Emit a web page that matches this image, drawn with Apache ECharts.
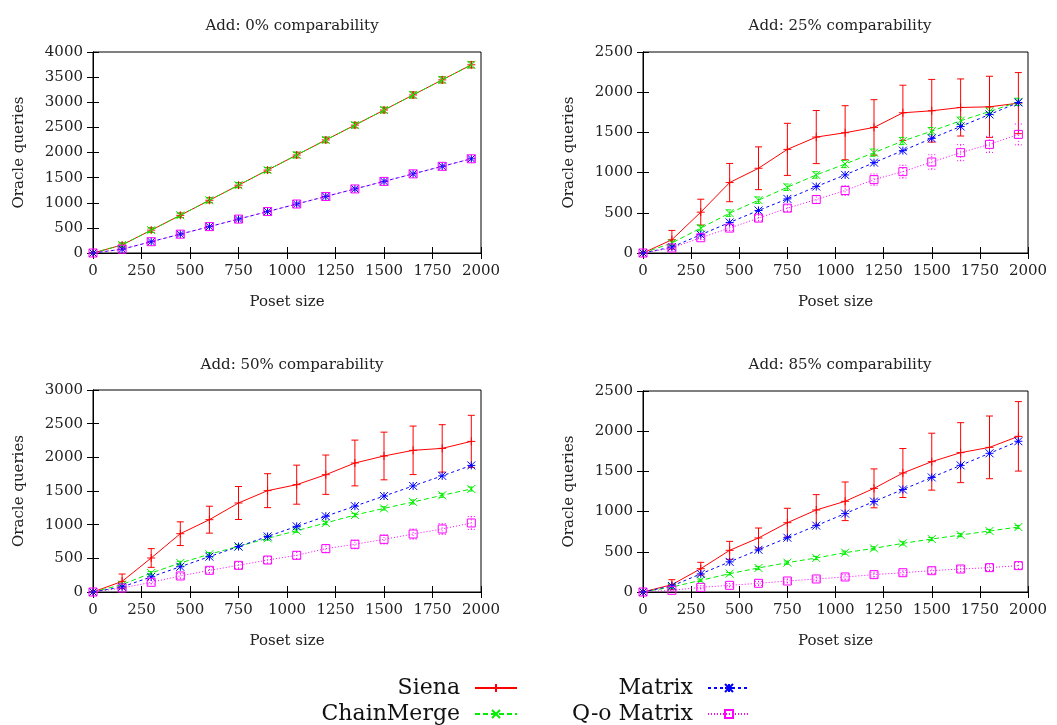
<!DOCTYPE html>
<html><head><meta charset="utf-8">
<script src="https://cdn.jsdelivr.net/npm/echarts@6/dist/echarts.min.js"></script>
<style>html,body{margin:0;padding:0;background:#fff}#c{width:1057px;height:725px}</style>
</head><body><div id="c"></div>
<script>
// ---- data ----
const posetSizes = [0,150,300,450,600,750,900,1050,1200,1350,1500,1650,1800,1950];
const panelTitles = ['Add: 0% comparability','Add: 25% comparability','Add: 50% comparability','Add: 85% comparability'];
const yMaxes = [4000, 2500, 3000, 2500];
const seriesNames = ['Siena','ChainMerge','Matrix','Q-o Matrix'];

const siena0  = [0,160,455,750,1050,1350,1650,1950,2250,2545,2845,3145,3445,3745];
const chain0  = [0,160,455,750,1050,1350,1650,1950,2250,2545,2845,3145,3445,3745];
const matrix0 = [0,75,225,375,525,675,825,975,1125,1275,1425,1575,1725,1875];
const qo0     = [0,75,225,375,525,675,825,975,1125,1275,1425,1575,1725,1875];
const sienaErr0 = [0,40,45,45,50,50,50,55,55,55,55,60,60,60];
const chainErr0 = [0,40,45,45,50,50,50,55,55,55,55,60,60,60];
const qoErr0    = [0,20,20,25,25,25,25,30,30,30,30,30,30,30];

const siena25  = [0,165,508,876,1054,1289,1442,1496,1562,1744,1769,1810,1818,1864];
const chain25  = [0,124,310,496,657,818,971,1107,1248,1393,1516,1645,1760,1880];
const matrix25 = [0,74,227,380,529,673,826,971,1124,1273,1426,1574,1723,1872];
const qo25     = [0,62,190,310,434,558,665,777,913,1012,1132,1248,1351,1475];
const sienaErr25 = [0,116,161,238,266,324,330,336,345,343,390,355,380,380];
const chainErr25 = [0,30,35,40,40,40,40,45,45,45,45,45,45,45];
const qoErr25    = [0,20,25,30,35,40,50,60,70,80,90,100,100,130];

const siena50  = [0,158,505,866,1074,1322,1505,1594,1742,1916,2020,2104,2133,2237];
const chain50  = [0,109,282,431,560,678,797,911,1025,1143,1242,1337,1436,1530];
const matrix50 = [0,75,225,375,525,675,825,975,1125,1275,1425,1575,1725,1880];
const qo50     = [0,59,144,238,322,396,475,545,644,708,782,861,936,1025];
const sienaErr50 = [0,109,139,176,200,245,252,290,292,340,354,360,352,387];
const chainErr50 = [0,20,20,25,25,25,25,25,25,25,25,30,30,30];
const qoErr50    = [0,20,25,35,40,45,50,55,60,65,70,75,80,95];

const siena85  = [0,91,290,518,672,862,1020,1128,1289,1480,1621,1733,1799,1936];
const chain85  = [0,62,145,228,299,365,423,489,543,605,659,709,759,808];
const matrix85 = [0,75,225,375,525,675,825,975,1125,1275,1425,1575,1725,1875];
const qo85     = [0,21,58,83,108,137,162,187,216,240,265,286,303,328];
const sienaErr85 = [0,62,79,112,124,179,191,240,242,305,354,373,390,432];
const chainErr85 = [0,15,15,15,20,20,20,20,20,20,20,20,20,20];
const qoErr85    = [0,15,20,20,25,25,25,30,30,30,35,35,35,40];

const panels = [
  {vals:[siena0,chain0,matrix0,qo0], errs:[sienaErr0,chainErr0,null,qoErr0]},
  {vals:[siena25,chain25,matrix25,qo25], errs:[sienaErr25,chainErr25,null,qoErr25]},
  {vals:[siena50,chain50,matrix50,qo50], errs:[sienaErr50,chainErr50,null,qoErr50]},
  {vals:[siena85,chain85,matrix85,qo85], errs:[sienaErr85,chainErr85,null,qoErr85]}
];

// ---- styles ----
const FONT = 'DejaVu Serif';
const colors = ['#ff0000','#00ee00','#0000ff','#ff00ff'];
const dashes = [null,[5,3],[3,3],[1,2]];
const symbols = [
  'path://M0,5L10,5M5,0L5,10',
  'path://M0,0L10,10M0,10L10,0',
  'path://M0,0L10,10M0,10L10,0M5,0L5,10M0,5L10,5',
  'path://M0,0L10,0L10,10L0,10Z'
];
const gridPos = [
  {left:93, top:52, width:388, height:201},
  {left:643, top:52, width:385, height:201},
  {left:93, top:390, width:388, height:202},
  {left:643, top:391, width:385, height:201}
];
const titleCenters = [[287,14],[835,14],[287,353],[835,353]];
const plain = v => String(v);

const grids=[], xAxes=[], yAxes=[], series=[], titles=[];
panels.forEach((p,gi)=>{
  grids.push(Object.assign({show:true, borderColor:'#000', borderWidth:1, backgroundColor:'transparent'}, gridPos[gi]));
  titles.push({text:panelTitles[gi], left:titleCenters[gi][0], top:titleCenters[gi][1], textAlign:'center',
    textStyle:{fontFamily:FONT, fontSize:15, fontWeight:'normal', color:'#222'}});
  const tickCommon = {show:true, inside:true, length:6, lineStyle:{color:'#000', width:1}};
  xAxes.push({gridIndex:gi, type:'value', min:0, max:2000, interval:250, position:'bottom',
    name:'Poset size', nameLocation:'middle', nameGap:42,
    nameTextStyle:{fontFamily:FONT, fontSize:15, color:'#222'},
    axisLine:{show:true, lineStyle:{color:'#000'}}, axisTick:tickCommon, splitLine:{show:false},
    axisLabel:{fontFamily:FONT, fontSize:15, color:'#222', margin:11, formatter:plain}});
  xAxes.push({gridIndex:gi, type:'value', min:0, max:2000, interval:250, position:'top',
    axisLine:{show:true, lineStyle:{color:'#000'}}, axisTick:tickCommon, splitLine:{show:false},
    axisLabel:{show:false}});
  yAxes.push({gridIndex:gi, type:'value', min:0, max:yMaxes[gi], interval:500, position:'left',
    name:'Oracle queries', nameLocation:'middle', nameGap:66, nameRotate:90,
    nameTextStyle:{fontFamily:FONT, fontSize:15, color:'#222'},
    axisLine:{show:true, lineStyle:{color:'#000'}}, axisTick:tickCommon, splitLine:{show:false},
    axisLabel:{fontFamily:FONT, fontSize:15, color:'#222', margin:10, formatter:plain}});
  yAxes.push({gridIndex:gi, type:'value', min:0, max:yMaxes[gi], interval:500, position:'right',
    axisLine:{show:true, lineStyle:{color:'#000'}}, axisTick:tickCommon, splitLine:{show:false},
    axisLabel:{show:false}});
});

// line series first (so legend icons use them)
panels.forEach((p,gi)=>{
  p.vals.forEach((vals,si)=>{
    series.push({
      type:'line', name:seriesNames[si], xAxisIndex:gi*2, yAxisIndex:gi*2,
      data: posetSizes.map((x,i)=>[x, vals[i]]),
      symbol: symbols[si], symbolSize: 8, showSymbol:true,
      color: colors[si],
      lineStyle:{color:colors[si], width:1, type: dashes[si]||'solid'},
      itemStyle:{color:'none', borderColor:colors[si], borderWidth:1},
      emphasis:{disabled:true}, animation:false, z: 3+si
    });
  });
});
// error bars
panels.forEach((p,gi)=>{
  p.errs.forEach((errs,si)=>{
    if(!errs) return;
    const vals = p.vals[si];
    series.push({
      type:'custom', name:seriesNames[si], xAxisIndex:gi*2, yAxisIndex:gi*2,
      data: posetSizes.map((x,i)=>[x, vals[i]-errs[i], vals[i]+errs[i]]),
      renderItem:(params, api)=>{
        const lo = api.coord([api.value(0), Math.max(0, api.value(1))]);
        const hi = api.coord([api.value(0), api.value(2)]);
        const hw = 3.5;
        const st = {stroke:colors[si], lineWidth:1, lineDash: dashes[si]||null, fill:null};
        return {type:'group', children:[
          {type:'line', shape:{x1:lo[0],y1:lo[1],x2:hi[0],y2:hi[1]}, style:st},
          {type:'line', shape:{x1:lo[0]-hw,y1:lo[1],x2:lo[0]+hw,y2:lo[1]}, style:st},
          {type:'line', shape:{x1:hi[0]-hw,y1:hi[1],x2:hi[0]+hw,y2:hi[1]}, style:st}
        ]};
      },
      animation:false, z: 2+si, silent:true
    });
  });
});

const legendPos = [
  {name:'Siena', right:534, top:672},
  {name:'ChainMerge', right:534, top:698},
  {name:'Matrix', right:301, top:672},
  {name:'Q-o Matrix', right:301, top:698}
];
const legends = legendPos.map(l=>({
  data:[l.name], right:l.right, top:l.top, align:'right', orient:'horizontal',
  itemWidth:42, itemHeight:10, selectedMode:false,
  textStyle:{fontFamily:FONT, fontSize:22, color:'#111', padding:[0,10,0,0]}
}));

const chart = echarts.init(document.getElementById('c'), null, {renderer:'canvas'});
chart.setOption({
  backgroundColor:'#fff', animation:false,
  title:titles, grid:grids, xAxis:xAxes, yAxis:yAxes, legend:legends, series:series
});
</script></body></html>
